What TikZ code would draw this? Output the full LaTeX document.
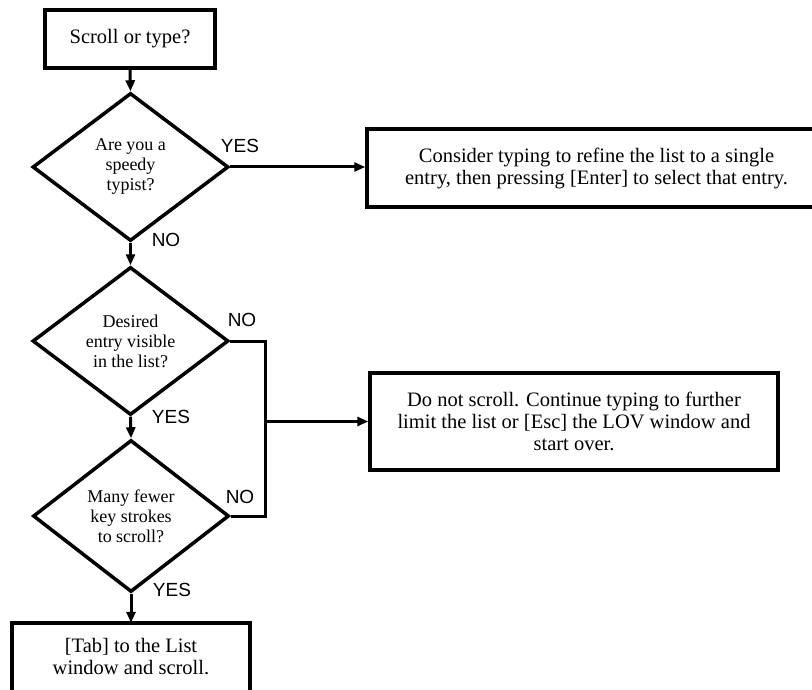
\documentclass[tikz,border=0pt]{standalone}
\usepackage{fontspec}
\setmainfont{Liberation Serif}
\newfontfamily\lblfont{Liberation Sans}
\usetikzlibrary{shapes.geometric,arrows.meta}
\begin{document}
\begin{tikzpicture}[x=1pt,y=-1pt,line join=miter,
  boxnode/.style={rectangle,inner sep=0pt,align=center,font=\fontsize{20.5}{22}\selectfont},
  framed/.style={boxnode,draw,line width=3.5pt},
  decision/.style={draw,line width=3.5pt,diamond,inner sep=0pt,minimum width=196pt,minimum height=148pt,align=center,font=\fontsize{18}{20}\selectfont},
  conn/.style={line width=3pt},
  arr/.style={conn,-{Triangle[length=11pt,width=9pt]}},
  lbl/.style={font=\lblfont\fontsize{19}{20}\selectfont,inner sep=0pt}]
\useasboundingbox (0,0) rectangle (812,690);
\fill[white] (0,0) rectangle (812,690);

\node[framed,minimum width=170pt,minimum height=58pt] (start) at (130,39) {Scroll or type?};
\node[decision] (d1) at (130.5,167) {Are you a\\speedy\\typist?};
\node[framed,minimum width=459pt,minimum height=78pt] (r1) at (596.5,168)
  {Consider typing to refine the list to a single\\entry, then pressing [Enter] to select that entry.};
\node[decision] (d2) at (130.5,341) {Desired\\entry visible\\in the list?};
\node[decision,minimum height=152pt] (d3) at (131,516) {Many fewer\\key strokes\\to scroll?};
\node[framed,minimum width=408pt,minimum height=97pt] (r2) at (574,421.5)
  {Do not scroll. Continue typing to further\\limit the list or [Esc] the LOV window and\\start over.};
\node[boxnode,minimum width=238pt,minimum height=67pt] (end) at (131,656.5)
  {[Tab] to the List\\window and scroll.};
\draw[line width=3.5pt] (end.south west) ++(0,12) -- (end.north west) -- (end.north east) -- ++(0,79);

\coordinate (j) at (265,421.5);

\draw[arr] (start.south) -- (d1.north);
\draw[arr] (d1.east) -- (d1.east -| r1.west);
\draw[arr] (d1.south) -- (d2.north);
\draw[arr] (d2.south) -- (d3.north);
\draw[arr] (d3.south) -- (end.north);
\draw[conn] (d2.east) -| (j) |- (d3.east);
\draw[arr] (j) -- (r2.west);

\node[lbl] (y1) at (240,146) {YES};
\node[lbl] (n1) at (166,240) {NO};
\node[lbl] (n2) at (242,320) {NO};
\node[lbl] (y2) at (171,417) {YES};
\node[lbl] (n3) at (240,497) {NO};
\node[lbl] (y3) at (172,590) {YES};
\end{tikzpicture}
\end{document}
